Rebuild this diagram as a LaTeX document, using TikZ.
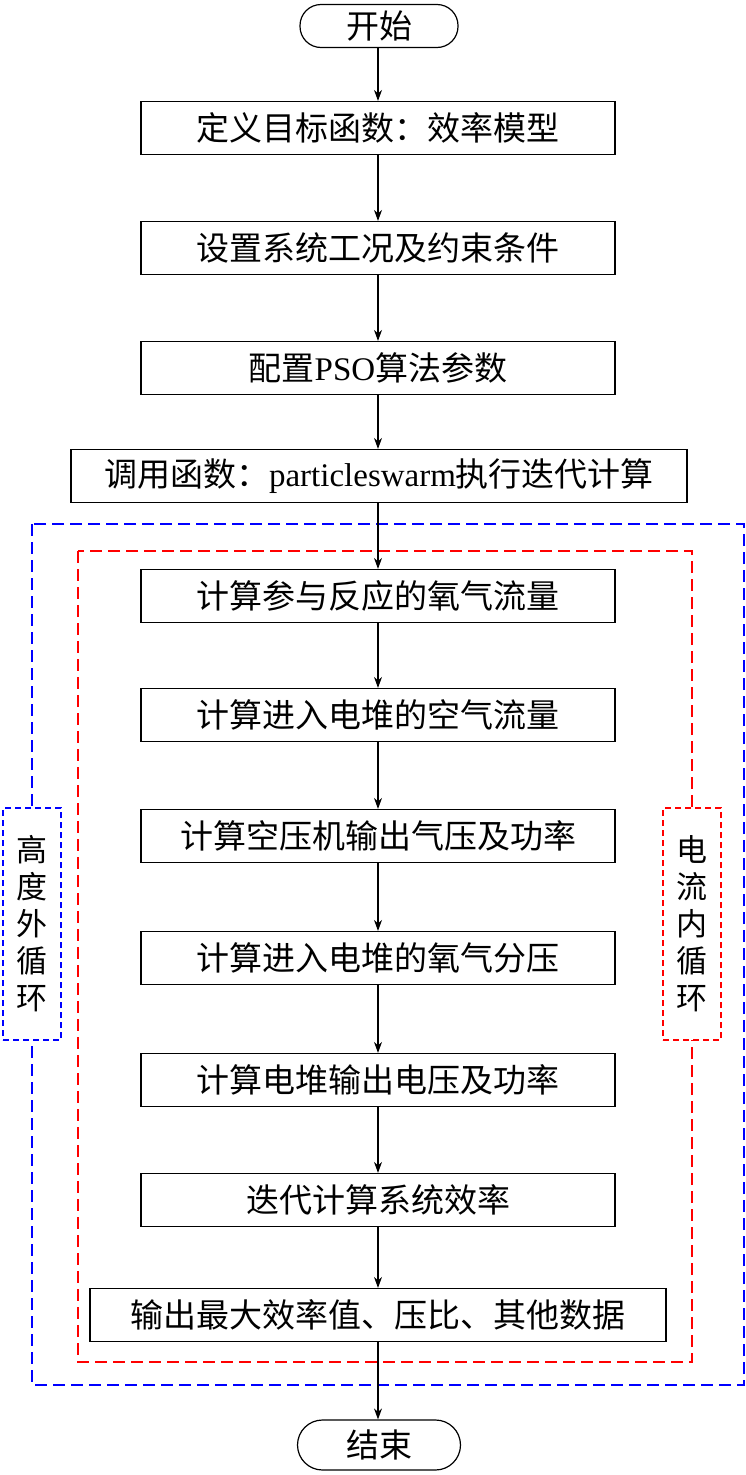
\documentclass[tikz,border=0pt]{standalone}
\usepackage{fontspec}
\setmainfont{Liberation Serif}
\newfontfamily\cjk{Noto Sans CJK SC}
\usetikzlibrary{arrows.meta}
\begin{document}
\begin{tikzpicture}[x=1pt,y=-1pt,
  box/.style={draw,line width=1.2pt,minimum height=53pt,inner sep=0pt,font=\fontsize{33}{36}\selectfont},
  term/.style={box,rounded corners=21pt,minimum height=43pt},
  lab/.style={draw,line width=1.2pt,dash pattern=on 6pt off 4pt,fill=white,minimum width=58pt,minimum height=232pt,align=center,font=\fontsize{31}{37}\selectfont\cjk},
  arr/.style={-{Stealth[length=11pt,width=8pt]},line width=1.2pt}]
\useasboundingbox (0,0) rectangle (746,1475);
\draw[blue,line width=1.4pt,dash pattern=on 12pt off 6pt] (32,524) rectangle (744,1385);
\draw[red,line width=1.4pt,dash pattern=on 12pt off 6pt] (78,551) rectangle (692,1362);
\node[lab,draw=blue] (lb) at (32,924) {高\\度\\外\\循\\环};
\node[lab,draw=red] (lr) at (692,924) {电\\流\\内\\循\\环};
\node[term,minimum width=158pt] (s) at (379,26) {\cjk 开始};
\node[box,minimum width=474pt] (a) at (378,128) {\cjk 定义目标函数：效率模型};
\node[box,minimum width=474pt] (b) at (378,248) {\cjk 设置系统工况及约束条件};
\node[box,minimum width=474pt] (c) at (378,368) {{\cjk 配置}PSO{\cjk 算法参数}};
\node[box,minimum width=616pt] (d) at (379,476) {{\cjk 调用函数：}particleswarm{\cjk 执行迭代计算}};
\node[box,minimum width=474pt] (e) at (378,596) {\cjk 计算参与反应的氧气流量};
\node[box,minimum width=474pt] (f) at (378,715) {\cjk 计算进入电堆的空气流量};
\node[box,minimum width=474pt] (g) at (378,836) {\cjk 计算空压机输出气压及功率};
\node[box,minimum width=474pt] (h) at (378,958) {\cjk 计算进入电堆的氧气分压};
\node[box,minimum width=474pt] (i) at (378,1080) {\cjk 计算电堆输出电压及功率};
\node[box,minimum width=474pt] (j) at (378,1200) {\cjk 迭代计算系统效率};
\node[box,minimum width=576pt] (k) at (378,1315) {\cjk 输出最大效率值、压比、其他数据};
\node[term,minimum width=163pt,minimum height=50pt,rounded corners=25pt] (t) at (379,1445) {\cjk 结束};
\foreach \p/\q in {s/a,a/b,b/c,c/d,d/e,e/f,f/g,g/h,h/i,i/j,j/k,k/t}
  \draw[arr] (\p.south-|a) -- (\q.north-|a);
\end{tikzpicture}
\end{document}
